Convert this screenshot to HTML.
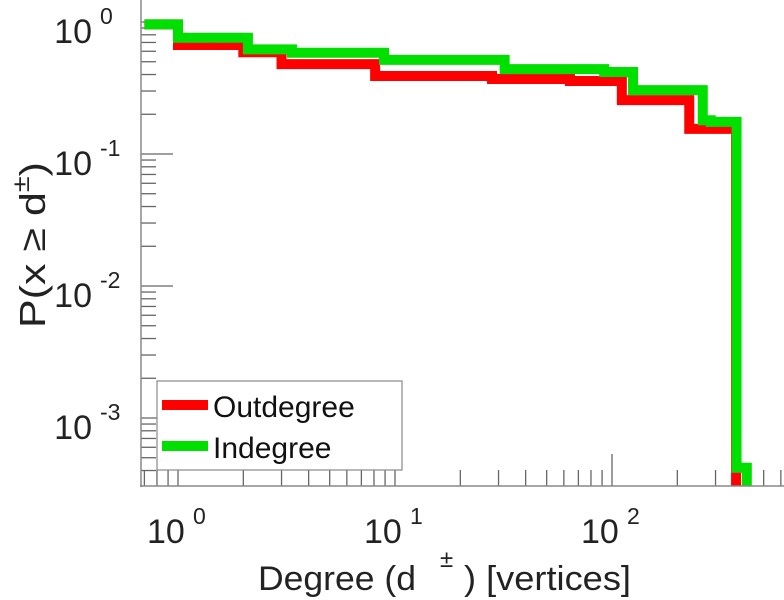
<!DOCTYPE html>
<html><head><meta charset="utf-8">
<style>
html,body{margin:0;padding:0;background:#fff;}
svg{display:block;font-family:"Liberation Sans",Arial,sans-serif;}
</style></head>
<body>
<svg id="chart" width="784" height="600" viewBox="0 0 784 600" xmlns="http://www.w3.org/2000/svg">
<defs><clipPath id="plotclip"><rect x="141" y="0" width="643" height="486"/></clipPath></defs>
<g id="ticks"></g>
<g id="series" clip-path="url(#plotclip)"></g>
<line x1="141" y1="0" x2="141" y2="487" stroke="#888" stroke-width="1.5"/>
<line x1="140" y1="486" x2="784" y2="486" stroke="#888" stroke-width="1.5"/>
<g id="labels"></g>
<g>
  <rect x="157" y="381" width="245" height="89" fill="#fff" stroke="#888" stroke-width="1.2"/>
  <line x1="162" y1="405" x2="208" y2="405" stroke="#ff0000" stroke-width="10"/>
  <text x="213" y="417" font-size="30" fill="#111">Outdegree</text>
  <line x1="162" y1="446" x2="208" y2="446" stroke="#00e000" stroke-width="10"/>
  <text x="213" y="458" font-size="30" fill="#111">Indegree</text>
</g>
<g fill="#222">
  <text x="258" y="590" font-size="34" textLength="158" lengthAdjust="spacingAndGlyphs">Degree (d</text>
  <text x="440" y="567" font-size="24">±</text>
  <text x="464" y="590" font-size="34" textLength="167" lengthAdjust="spacingAndGlyphs">) [vertices]</text>
</g>
<text transform="translate(45,328) rotate(-90)" font-size="36" fill="#222" textLength="166" lengthAdjust="spacingAndGlyphs">P(x ≥ d<tspan font-size="24" dy="-16">±</tspan><tspan dy="16">)</tspan></text>
</svg>
<script>
// Data
const outX = [0.7, 1, 2, 3, 8.1, 28, 64, 111, 227, 373];
const outP = [0.96, 0.67, 0.59, 0.48, 0.39, 0.37, 0.357, 0.256, 0.155, 0.0001];
const inX = [0.7, 1, 2.1, 3.35, 8.9, 32, 92, 125, 262, 285, 375, 390, 418];
const inP = [0.96, 0.76, 0.62, 0.585, 0.516, 0.44, 0.418, 0.305, 0.18, 0.175, 0.00042, 0.00042, 0.0001];
const xMajorTicks = [1, 10, 100];
const xTickExps = ["0", "1", "2"];
const yMajorTicks = [1, 0.1, 0.01, 0.001];
const yTickExps = ["0", "-1", "-2", "-3"];

const X0 = 178, XDEC = 217, Y0 = 22, YDEC = 132;
function sx(v){ return X0 + Math.log10(v) * XDEC; }
function sy(v){ return Y0 - Math.log10(v) * YDEC; }
const NS = "http://www.w3.org/2000/svg";
function mk(tag, attrs, parent){ const e = document.createElementNS(NS, tag); for (const k in attrs) e.setAttribute(k, attrs[k]); parent.appendChild(e); return e; }

const tg = document.getElementById('ticks');
for (let d = -1; d <= 2; d++) {
  for (let m = 1; m <= 9; m++) {
    const v = m * Math.pow(10, d);
    const px = sx(v);
    if (px < 141 || px > 783) continue;
    const len = m === 1 ? 32 : 16;
    const t = mk('line', {x1: px, x2: px, y1: 486, y2: 486 - len, stroke: '#666', 'stroke-width': 1.3}, tg);
    
    
  }
}
for (let d = -4; d <= 0; d++) {
  for (let m = 1; m <= 9; m++) {
    const v = m * Math.pow(10, d);
    const py = sy(v);
    if (py < 10 || py > 486) continue;
    const len = m === 1 ? 32 : 15;
    const t = mk('line', {x1: 141, x2: 141 + len, y1: py, y2: py, stroke: '#666', 'stroke-width': 1.3}, tg);
    
    
  }
}

const lg = document.getElementById('labels');
xMajorTicks.forEach((v, i) => {
  const px = sx(v);
  const t = mk('text', {x: px - 31, y: 543, 'font-size': 34, fill: '#222'}, lg);
  
  
  t.textContent = '10';
  const s = mk('tspan', {x: px + 15, y: 524, 'font-size': 23}, t);
  s.textContent = xTickExps[i];
});
yMajorTicks.forEach((v, i) => {
  const py = sy(v);
  const t = mk('text', {x: 92, y: py + 21, 'font-size': 34, fill: '#222', 'text-anchor': 'end'}, lg);
  
  
  t.textContent = '10';
  const s = mk('text', {x: 100, y: py + 2, 'font-size': 23, fill: '#222'}, lg);
  
  
  s.textContent = yTickExps[i];
});

function stairs(xs, ps){
  let pts = [];
  for (let i = 0; i < xs.length; i++) {
    if (i > 0) pts.push(sx(xs[i]) + ',' + sy(ps[i-1]));
    pts.push(sx(xs[i]) + ',' + sy(ps[i]));
  }
  return pts.join(' ');
}
const sg = document.getElementById('series');
const r = mk('polyline', {points: stairs(outX, outP), fill: 'none', stroke: '#ff0000', 'stroke-width': 10, 'stroke-linejoin': 'miter'}, sg);


const g = mk('polyline', {points: stairs(inX, inP), fill: 'none', stroke: '#00e000', 'stroke-width': 10, 'stroke-linejoin': 'miter'}, sg);


</script>
</body></html>
